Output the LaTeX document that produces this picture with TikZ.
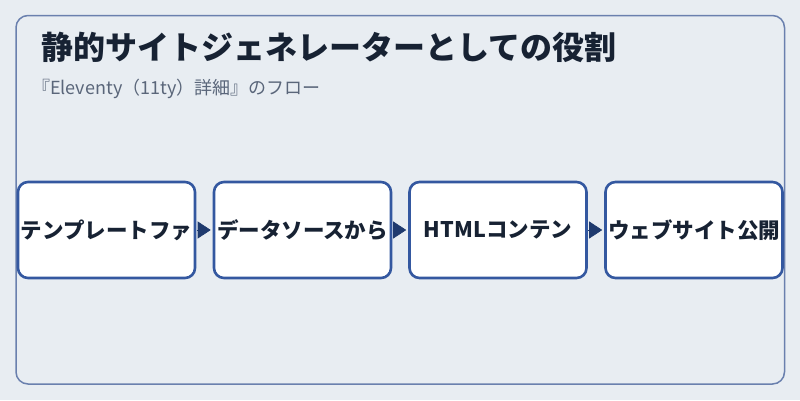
\documentclass[tikz,border=0pt]{standalone}
\usepackage{fontspec}
\setmainfont{Noto Sans CJK JP}
\usetikzlibrary{arrows.meta}
\definecolor{bg}{HTML}{E8EDF2}
\definecolor{frame}{HTML}{6A80AE}
\definecolor{boxline}{HTML}{3458A0}
\definecolor{titlec}{HTML}{172233}
\definecolor{subc}{HTML}{5A667A}
\definecolor{arrowc}{HTML}{1F3A6E}
\tikzset{
  stepbox/.style={draw=boxline, line width=2.6pt, fill=white, rounded corners=10pt,
    minimum width=177pt, minimum height=96pt, inner sep=0pt, font=\fontsize{21.5}{24}\selectfont\bfseries, text=titlec},
  flow/.style={draw=arrowc, line width=0.6pt, -{Triangle[length=13pt,width=17pt]}, fill=arrowc, shorten <=0.5pt, shorten >=2pt}
}
\begin{document}
\begin{tikzpicture}[x=1pt,y=-1pt]
\fill[bg] (0,0) rectangle (800,400);
\useasboundingbox (0,0) rectangle (800,400);
\draw[frame, line width=1.5pt, rounded corners=12pt] (16,15.5) rectangle (784.5,384);
\node[anchor=west, text=titlec, font=\fontsize{32}{36}\selectfont\bfseries, inner sep=0pt] (title) at (41,47) {静的サイトジェネレーターとしての役割};
\node[anchor=west, text=subc, font=\fontsize{18}{22}\selectfont, inner sep=0pt] (sub) at (32,89) {『Eleventy（11ty）詳細』のフロー};
\node[stepbox] (a) at (106.5,230) {テンプレートファ};
\node[stepbox] (b) at (302.5,230) {データソースから};
\node[stepbox] (c) at (498,230) {HTMLコンテン};
\node[stepbox] (d) at (694,230) {ウェブサイト公開};
\draw[flow] (a.east) -- (b.west);
\draw[flow] (b.east) -- (c.west);
\draw[flow] (c.east) -- (d.west);
\end{tikzpicture}
\end{document}
